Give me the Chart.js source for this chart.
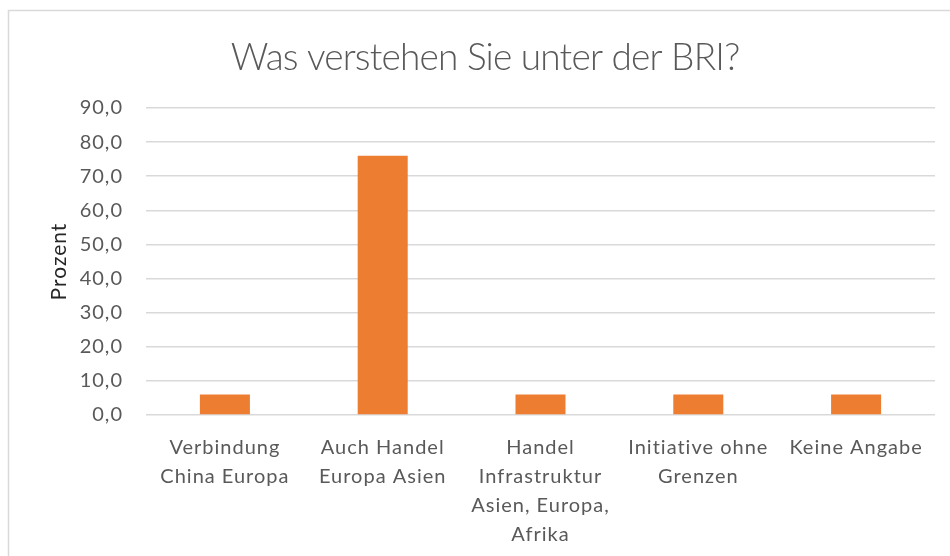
<!DOCTYPE html>
<html>
<head>
<meta charset="utf-8">
<script src="https://cdn.jsdelivr.net/npm/chart.js@4/dist/chart.umd.min.js"></script>
<style>
html,body{margin:0;padding:0;background:#fff;}
#wrap{position:relative;width:950px;height:556px;}
</style>
</head>
<body>
<div id="wrap"><canvas id="c" width="950" height="556"></canvas></div>
<script>
const categories = [
  ["Verbindung", "China Europa"],
  ["Auch Handel", "Europa Asien"],
  ["Handel", "Infrastruktur", "Asien, Europa,", "Afrika"],
  ["Initiative ohne", "Grenzen"],
  ["Keine Angabe"]
];
const values = [6.0, 76.0, 6.0, 6.0, 6.0];
const yMin = 0, yMax = 90, yStep = 10;
const titleText = "Was verstehen Sie unter der BRI?";
const yAxisTitle = "Prozent";

const frame = {
  id: 'frame',
  beforeUpdate(chart) {
    chart.ctx.letterSpacing = '1px';
  },
  beforeDraw(chart) {
    const ctx = chart.ctx;
    ctx.save();
    ctx.fillStyle = '#fff';
    ctx.fillRect(0, 0, chart.width, chart.height);
    ctx.strokeStyle = '#d9d9d9';
    ctx.lineWidth = 1.5;
    ctx.strokeRect(8.5, 10.5, 960, 560);
    ctx.restore();
  },
  afterDraw(chart) {
    const ctx = chart.ctx;
    ctx.save();
    ctx.letterSpacing = '-0.8px';
    ctx.font = '300 37px Lato';
    ctx.fillStyle = '#595959';
    ctx.textAlign = 'center';
    ctx.textBaseline = 'middle';
    ctx.fillText(titleText, 485, 58);
    ctx.restore();
  }
};

new Chart(document.getElementById('c'), {
  type: 'bar',
  data: {
    labels: categories,
    datasets: [{
      data: values,
      backgroundColor: '#ED7D31',
      borderWidth: 0,
      barPercentage: 0.317,
      categoryPercentage: 1.0
    }]
  },
  options: {
    responsive: false,
    animation: false,
    layout: { padding: { left: 0, right: 15, top: 108, bottom: 0 } },
    plugins: {
      legend: { display: false },
      tooltip: { enabled: false },
      title: { display: false }
    },
    scales: {
      x: {
        grid: { display: false, drawTicks: false },
        border: { display: false },
        ticks: {
          color: '#595959',
          font: { family: 'Lato', size: 20, lineHeight: 1.45 },
          padding: 18,
          maxRotation: 0,
          autoSkip: false
        },
        afterFit(scale) { scale.height = 141; }
      },
      y: {
        min: yMin, max: yMax,
        grid: { color: '#d9d9d9', lineWidth: 1.5, drawTicks: false },
        border: { display: false },
        ticks: {
          stepSize: yStep,
          color: '#595959',
          font: { family: 'Lato', size: 20 },
          padding: 23,
          callback: v => v.toFixed(1).replace('.', ',')
        },
        title: {
          display: true,
          text: yAxisTitle,
          color: '#262626',
          font: { family: 'Lato', size: 21 },
          padding: { top: 47, bottom: 0 }
        },
        afterFit(scale) { scale.width = 146; }
      }
    }
  },
  plugins: [frame]
});
</script>
</body>
</html>
